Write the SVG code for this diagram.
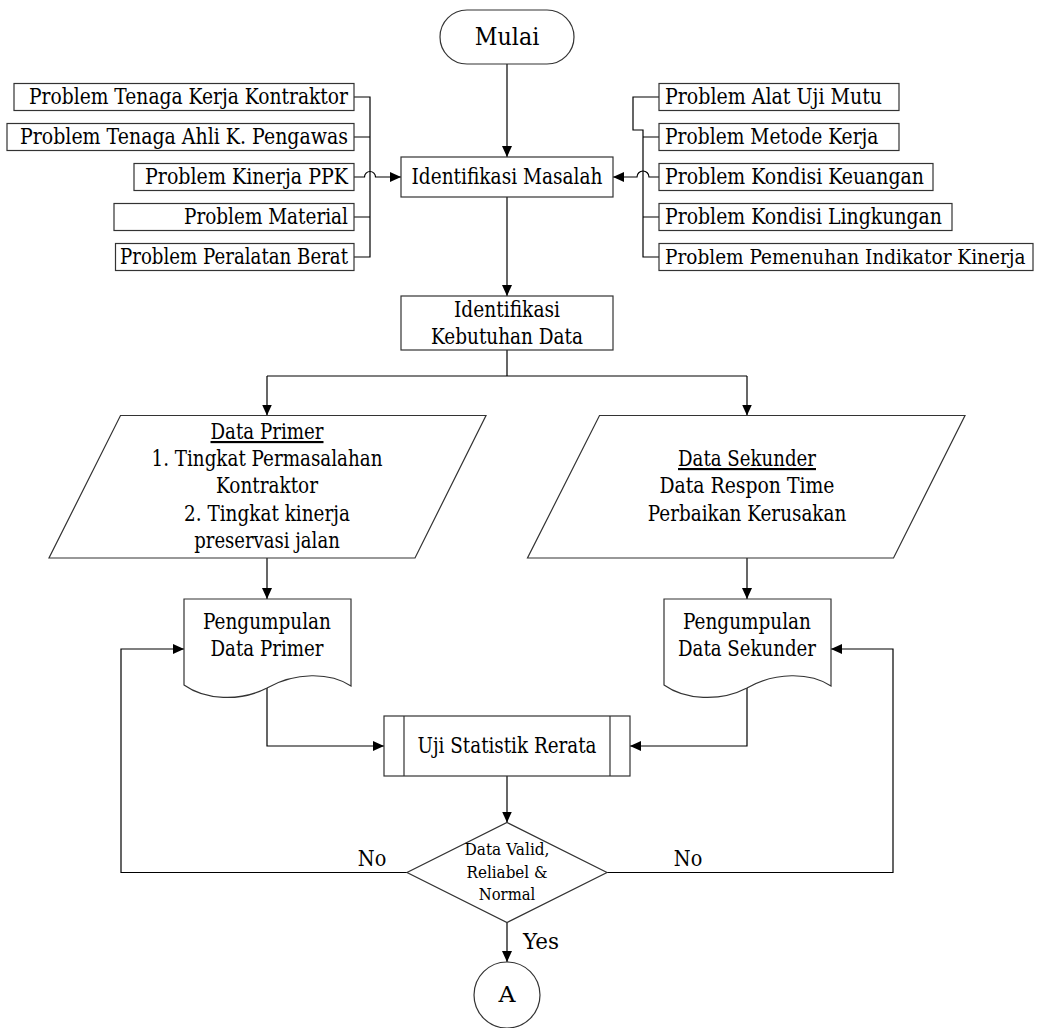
<svg xmlns="http://www.w3.org/2000/svg" width="1037" height="1028" viewBox="0 0 1037 1028">
  <defs>
    <marker id="arrow" viewBox="0 0 11 10" refX="11" refY="5" markerWidth="11" markerHeight="10" markerUnits="userSpaceOnUse" orient="auto">
      <path d="M0,0 L11,5 L0,10 z" fill="#000"/>
    </marker>
    <!-- document (wavy bottom) shape, origin at top-left -->
    <path id="docShape" d="M0,0 H167 V87 C146,73 111,73 83,89 C56,103 21,101 0,86 Z"/>
  </defs>
  <style>
    .shape { fill: #fff; stroke: #333; stroke-width: 1.2; }
    .conn { fill: none; stroke: #000; stroke-width: 1.2; }
    .arr { marker-end: url(#arrow); }
    text { font-family: "DejaVu Serif", serif; font-size: 21.5px; fill: #000; }
    .c { text-anchor: middle; }
    .r { text-anchor: end; }
    .small { font-size: 17px; }
    .big { font-size: 25px; }
    .u { text-decoration: underline; }
  </style>

  <rect width="1037" height="1028" fill="#fff"/>

  <!-- connectors -->
  <g id="connectors">
    <path class="conn arr" d="M507,64 V157"/>
    <path class="conn arr" d="M507,197 V296"/>
    <!-- left problem bus -->
    <path class="conn" d="M354,97 H370 V257 H354 M354,137 H370 M354,217 H370"/>
    <path class="conn arr" d="M354,177 H364.5 A5.5,5.5 0 0 1 375.5,177 H401"/>
    <!-- right problem bus -->
    <path class="conn" d="M659,97 H633 V130 H643 V257 H659 M643,137 H659 M643,217 H659"/>
    <path class="conn arr" d="M659,177 H649 A6,6 0 0 0 637,177 H613"/>
    <!-- split to data types -->
    <path class="conn" d="M507,350 V376 M267,376 H747"/>
    <path class="conn arr" d="M267,376 V415.5"/>
    <path class="conn arr" d="M747,376 V415.5"/>
    <path class="conn arr" d="M267,558 V599"/>
    <path class="conn arr" d="M747,558 V599"/>
    <path class="conn arr" d="M267,688 V746 H384"/>
    <path class="conn arr" d="M747,688 V746 H630"/>
    <path class="conn arr" d="M507,776 V822.5"/>
    <path class="conn arr" d="M507,922.5 V962"/>
    <!-- loop back on failure -->
    <path class="conn arr" d="M407,872.5 H121 V649 H184"/>
    <path class="conn arr" d="M607,872.5 H893 V649 H831"/>
    <text x="372" y="866" class="c" textLength="28.5" lengthAdjust="spacingAndGlyphs">No</text>
    <text x="688" y="866" class="c" textLength="28.5" lengthAdjust="spacingAndGlyphs">No</text>
    <text x="523" y="949" textLength="36" lengthAdjust="spacingAndGlyphs">Yes</text>
  </g>

  <!-- start -->
  <g id="mulai">
    <rect class="shape" x="440" y="10" width="134" height="54" rx="27" ry="27"/>
    <text x="507" y="45" class="c big" textLength="64.5" lengthAdjust="spacingAndGlyphs">Mulai</text>
  </g>

  <!-- left problems -->
  <g id="p-tenaga-kerja">
    <rect class="shape" x="14" y="83.5" width="340" height="27"/>
    <text x="348" y="104" class="r" textLength="319" lengthAdjust="spacingAndGlyphs">Problem Tenaga Kerja Kontraktor</text>
  </g>
  <g id="p-tenaga-ahli">
    <rect class="shape" x="7" y="123.5" width="347" height="27"/>
    <text x="348" y="144" class="r" textLength="328" lengthAdjust="spacingAndGlyphs">Problem Tenaga Ahli K. Pengawas</text>
  </g>
  <g id="p-kinerja-ppk">
    <rect class="shape" x="134" y="163.5" width="220" height="27"/>
    <text x="348" y="184" class="r" textLength="203" lengthAdjust="spacingAndGlyphs">Problem Kinerja PPK</text>
  </g>
  <g id="p-material">
    <rect class="shape" x="114" y="203.5" width="240" height="27"/>
    <text x="348" y="224" class="r" textLength="164" lengthAdjust="spacingAndGlyphs">Problem Material</text>
  </g>
  <g id="p-peralatan">
    <rect class="shape" x="115.5" y="243.5" width="238.5" height="27"/>
    <text x="348" y="264" class="r" textLength="228" lengthAdjust="spacingAndGlyphs">Problem Peralatan Berat</text>
  </g>

  <!-- right problems -->
  <g id="p-alat-uji">
    <rect class="shape" x="659" y="83.5" width="240" height="27"/>
    <text x="665" y="104" textLength="217" lengthAdjust="spacingAndGlyphs">Problem Alat Uji Mutu</text>
  </g>
  <g id="p-metode">
    <rect class="shape" x="659" y="123.5" width="240" height="27"/>
    <text x="665" y="144" textLength="213.5" lengthAdjust="spacingAndGlyphs">Problem Metode Kerja</text>
  </g>
  <g id="p-keuangan">
    <rect class="shape" x="659" y="163.5" width="274" height="27"/>
    <text x="665" y="184" textLength="259" lengthAdjust="spacingAndGlyphs">Problem Kondisi Keuangan</text>
  </g>
  <g id="p-lingkungan">
    <rect class="shape" x="659" y="203.5" width="293" height="27"/>
    <text x="665" y="224" textLength="277" lengthAdjust="spacingAndGlyphs">Problem Kondisi Lingkungan</text>
  </g>
  <g id="p-indikator">
    <rect class="shape" x="659" y="243.5" width="374" height="27"/>
    <text x="665" y="264" font-size="20" style="font-size:20px" textLength="360.5" lengthAdjust="spacingAndGlyphs">Problem Pemenuhan Indikator Kinerja</text>
  </g>

  <!-- process boxes -->
  <g id="identifikasi-masalah">
    <rect class="shape" x="401" y="157" width="212" height="40"/>
    <text x="507" y="184" class="c" textLength="191" lengthAdjust="spacingAndGlyphs">Identifikasi Masalah</text>
  </g>
  <g id="identifikasi-kebutuhan">
    <rect class="shape" x="401" y="296" width="212" height="54"/>
    <text x="507" y="317" class="c" textLength="106" lengthAdjust="spacingAndGlyphs">Identifikasi</text>
    <text x="507" y="344" class="c" textLength="152" lengthAdjust="spacingAndGlyphs">Kebutuhan Data</text>
  </g>

  <!-- data inputs -->
  <g id="data-primer">
    <polygon class="shape" points="120.5,415.5 486,415.5 415,558 49,558"/>
    <text x="267" y="439" class="c u" textLength="113" lengthAdjust="spacingAndGlyphs">Data Primer</text>
    <text x="267" y="466" class="c" textLength="231" lengthAdjust="spacingAndGlyphs">1. Tingkat Permasalahan</text>
    <text x="267" y="493" class="c" textLength="102" lengthAdjust="spacingAndGlyphs">Kontraktor</text>
    <text x="267" y="521" class="c" textLength="166" lengthAdjust="spacingAndGlyphs">2. Tingkat kinerja</text>
    <text x="267" y="548" class="c" textLength="145.5" lengthAdjust="spacingAndGlyphs">preservasi jalan</text>
  </g>
  <g id="data-sekunder">
    <polygon class="shape" points="599.5,415.5 965,415.5 893.5,558 527.5,558"/>
    <text x="747" y="466" class="c u" textLength="138" lengthAdjust="spacingAndGlyphs">Data Sekunder</text>
    <text x="747" y="493" class="c" textLength="175" lengthAdjust="spacingAndGlyphs">Data Respon Time</text>
    <text x="747" y="521" class="c" textLength="198.5" lengthAdjust="spacingAndGlyphs">Perbaikan Kerusakan</text>
  </g>

  <!-- collection documents -->
  <g id="pengumpulan-primer">
    <use href="#docShape" class="shape" x="184" y="599"/>
    <text x="267" y="629" class="c" textLength="128" lengthAdjust="spacingAndGlyphs">Pengumpulan</text>
    <text x="267" y="656" class="c" textLength="113" lengthAdjust="spacingAndGlyphs">Data Primer</text>
  </g>
  <g id="pengumpulan-sekunder">
    <use href="#docShape" class="shape" x="664" y="599"/>
    <text x="747" y="629" class="c" textLength="128" lengthAdjust="spacingAndGlyphs">Pengumpulan</text>
    <text x="747" y="656" class="c" textLength="138" lengthAdjust="spacingAndGlyphs">Data Sekunder</text>
  </g>

  <!-- predefined process -->
  <g id="uji-statistik">
    <rect class="shape" x="384" y="716" width="246" height="60"/>
    <path class="shape" d="M404,716 V776 M610,716 V776"/>
    <text x="507" y="753" class="c" textLength="179" lengthAdjust="spacingAndGlyphs">Uji Statistik Rerata</text>
  </g>

  <!-- decision -->
  <g id="cek-data">
    <polygon class="shape" points="507,822.5 607,872.5 507,922.5 407,872.5"/>
    <text x="507" y="855" class="c small" textLength="85" lengthAdjust="spacingAndGlyphs">Data Valid,</text>
    <text x="507" y="878" class="c small" textLength="81" lengthAdjust="spacingAndGlyphs">Reliabel &amp;</text>
    <text x="507" y="900" class="c small" textLength="56.5" lengthAdjust="spacingAndGlyphs">Normal</text>
  </g>

  <!-- connector A -->
  <g id="konektor-a">
    <circle class="shape" cx="507" cy="995" r="33"/>
    <text x="507" y="1002" class="c" textLength="17" lengthAdjust="spacingAndGlyphs">A</text>
  </g>
</svg>
